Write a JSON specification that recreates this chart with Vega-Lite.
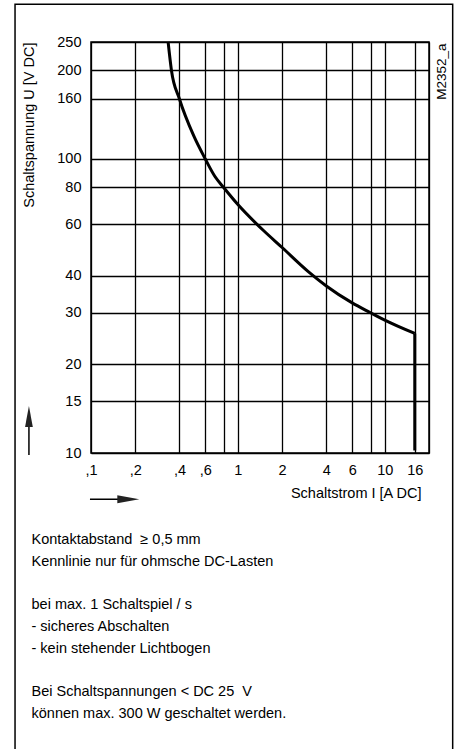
{
  "$schema": "https://vega.github.io/schema/vega-lite/v6.json",
  "autosize": "none",
  "width": 338,
  "height": 411,
  "padding": {"left": 91, "top": 42, "right": 31, "bottom": 296},
  "background": "white",
  "config": {
    "font": "Liberation Sans, Arial, sans-serif",
    "view": {"stroke": "black", "strokeWidth": 1.5}
  },
  "datasets": {
    "curve": [
      {"I": 0.335, "U": 250},
      {"I": 0.353, "U": 200},
      {"I": 0.4, "U": 160},
      {"I": 0.5, "U": 120},
      {"I": 0.6, "U": 100},
      {"I": 0.7, "U": 87},
      {"I": 0.8, "U": 80},
      {"I": 1, "U": 70},
      {"I": 1.5, "U": 57},
      {"I": 2, "U": 50},
      {"I": 3, "U": 41.5},
      {"I": 4, "U": 37},
      {"I": 6, "U": 32.4},
      {"I": 8, "U": 30},
      {"I": 10, "U": 28.3},
      {"I": 16, "U": 25.5}
    ],
    "cutoff": [
      {"I": 16, "U": 25.5},
      {"I": 16, "U": 10.2}
    ]
  },
  "resolve": {"axis": {"x": "independent", "y": "independent"}},
  "layer": [
    {
      "data": {"values": [{}]},
      "mark": {"type": "rect", "fill": null, "fillOpacity": 0, "stroke": "black", "strokeWidth": 1.5},
      "encoding": {
        "x": {"datum": 0.0304, "type": "quantitative", "scale": {"type": "log", "domain": [0.1, 20], "nice": false}, "axis": null},
        "x2": {"datum": 28.99},
        "y": {"datum": 335.9, "type": "quantitative", "scale": {"type": "log", "domain": [10, 250], "nice": false}, "axis": null},
        "y2": {"datum": 0.8}
      }
    },
    {
      "data": {"name": "curve"},
      "mark": {"type": "line", "color": "black", "strokeWidth": 3, "interpolate": "monotone"},
      "encoding": {
        "x": {
          "field": "I", "type": "quantitative",
          "scale": {"type": "log", "domain": [0.1, 20], "nice": false},
          "axis": {
            "orient": "bottom",
            "values": [0.1, 0.2, 0.4, 0.6, 0.8, 1, 2, 4, 6, 8, 10, 16, 20],
            "labelExpr": "datum.value == 0.8 || datum.value == 8 || datum.value == 20 ? '' : (datum.value < 1 ? ',' + round(datum.value * 10) : '' + datum.value)",
            "grid": true, "gridColor": "black", "gridWidth": 1.3, "gridOpacity": 1,
            "ticks": false, "domain": false,
            "labelPadding": 10, "labelFontSize": 14.5, "labelColor": "black",
            "labelFlush": false, "labelOverlap": false,
            "title": "Schaltstrom I [A DC]",
            "titleX": 330, "titleY": 40, "titleAlign": "right", "titleBaseline": "middle",
            "titleFontSize": 14.5, "titleFontWeight": "normal", "titleColor": "black"
          }
        },
        "y": {
          "field": "U", "type": "quantitative",
          "scale": {"type": "log", "domain": [10, 250], "nice": false},
          "axis": {
            "orient": "left",
            "values": [10, 15, 20, 30, 40, 60, 80, 100, 160, 200, 250],
            "grid": true, "gridColor": "black", "gridWidth": 1.3, "gridOpacity": 1,
            "ticks": false, "domain": false,
            "labelPadding": 10, "labelFontSize": 14.5, "labelColor": "black",
            "labelFlush": false, "labelOverlap": false,
            "title": "Schaltspannung U [V DC]",
            "titleAngle": -90, "titleX": -61.5, "titleY": 0, "titleAlign": "right", "titleBaseline": "middle",
            "titleFontSize": 14.5, "titleFontWeight": "normal", "titleColor": "black"
          }
        }
      }
    },
    {
      "data": {"name": "cutoff"},
      "mark": {"type": "line", "color": "black", "strokeWidth": 3},
      "encoding": {
        "x": {
          "field": "I", "type": "quantitative",
          "axis": {
            "orient": "bottom",
            "labels": false, "ticks": false, "domain": false, "grid": false,
            "title": [
              "Kontaktabstand\u00a0\u00a0≥ 0,5 mm",
              "Kennlinie nur für ohmsche DC-Lasten",
              "\u200b",
              "bei max. 1 Schaltspiel / s",
              "- sicheres Abschalten",
              "- kein stehender Lichtbogen",
              "\u200b",
              "Bei Schaltspannungen < DC 25\u00a0\u00a0V",
              "können max. 300 W geschaltet werden."
            ],
            "titleX": -60, "titleY": 90.3, "titleAlign": "left", "titleBaseline": "alphabetic",
            "titleLineHeight": 21.8,
            "titleFontSize": 14.5, "titleFontWeight": "normal", "titleColor": "black"
          }
        },
        "y": {
          "field": "U", "type": "quantitative",
          "axis": {
            "orient": "right",
            "labels": false, "ticks": false, "domain": false, "grid": false,
            "title": "M2352_a",
            "titleAngle": -90, "titleX": 12, "titleY": 1, "titleAlign": "right", "titleBaseline": "middle",
            "titleFontSize": 13.5, "titleFontWeight": "normal", "titleColor": "black"
          }
        }
      }
    },
    {
      "data": {"values": [{}]},
      "mark": {"type": "rule", "color": "black", "strokeWidth": 1.5},
      "encoding": {
        "x": {"datum": 0.0378, "type": "quantitative", "axis": null},
        "y": {"datum": 9.84, "type": "quantitative", "axis": null},
        "y2": {"datum": 13.36}
      }
    },
    {
      "data": {"values": [{}]},
      "mark": {"type": "point", "shape": "M0,-1L0.37,1L-0.37,1Z", "size": 441, "filled": true, "color": "#222", "opacity": 1, "strokeWidth": 0},
      "encoding": {
        "x": {"datum": 0.0378, "type": "quantitative", "axis": null},
        "y": {"datum": 13.31, "type": "quantitative", "axis": null}
      }
    },
    {
      "data": {"values": [{}]},
      "mark": {"type": "rule", "color": "black", "strokeWidth": 1.5},
      "encoding": {
        "x": {"datum": 0.0984, "type": "quantitative", "axis": null},
        "x2": {"datum": 0.1795},
        "y": {"datum": 6.96, "type": "quantitative", "axis": null}
      }
    },
    {
      "data": {"values": [{}]},
      "mark": {"type": "point", "shape": "M1,0L-1,-0.37L-1,0.37Z", "size": 484, "filled": true, "color": "#222", "opacity": 1, "strokeWidth": 0},
      "encoding": {
        "x": {"datum": 0.1795, "type": "quantitative", "axis": null},
        "y": {"datum": 6.96, "type": "quantitative", "axis": null}
      }
    }
  ]
}
